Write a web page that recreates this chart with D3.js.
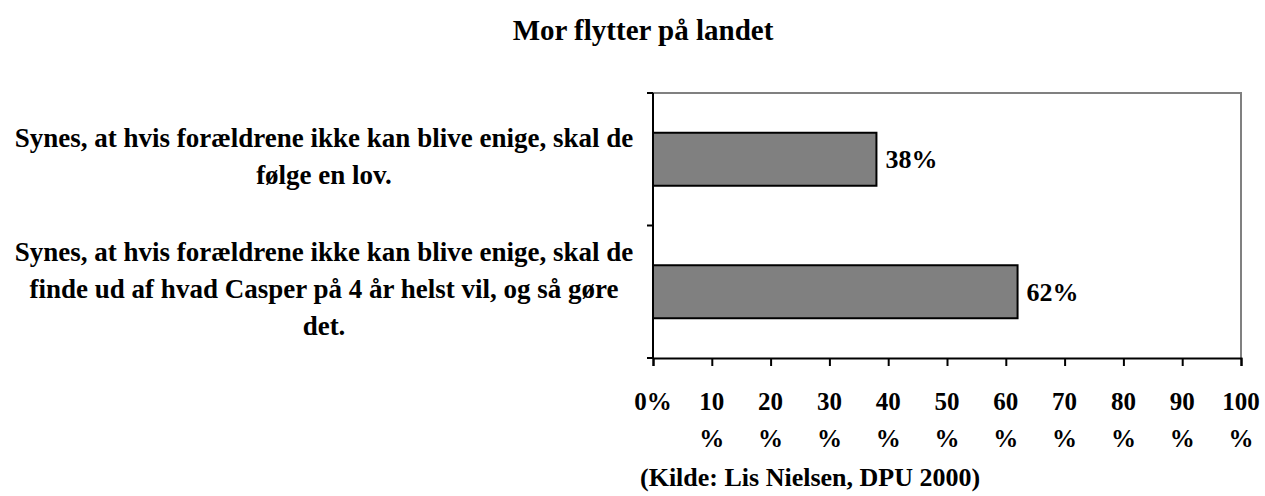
<!DOCTYPE html>
<html>
<head>
<meta charset="utf-8">
<script src="https://cdn.jsdelivr.net/npm/d3@7"></script>
<style>
body { margin: 0; background: #fff; }
text { font-family: "Liberation Serif", "Times New Roman", serif; font-weight: bold; fill: #000; }
</style>
</head>
<body>
<div id="chart"></div>
<script>
// data
var categories = [
    ["Synes, at hvis forældrene ikke kan blive enige, skal de", "følge en lov."],
    ["Synes, at hvis forældrene ikke kan blive enige, skal de", "finde ud af hvad Casper på 4 år helst vil, og så gøre", "det."]
];
var values = [0.38, 0.62];
var tickValues = [0, 0.1, 0.2, 0.3, 0.4, 0.5, 0.6, 0.7, 0.8, 0.9, 1];
var tickLabels = [["0%"], ["10", "%"], ["20", "%"], ["30", "%"], ["40", "%"], ["50", "%"], ["60", "%"], ["70", "%"], ["80", "%"], ["90", "%"], ["100", "%"]];

var W = 1265, H = 496;
var margin = {t: 93, r: 24, b: 138, l: 653};
var width = W - margin.l - margin.r,
    height = H - margin.t - margin.b;

var svg = d3.select('#chart').append('svg').attr('width', W).attr('height', H);

svg.append('text').attr('x', 643).attr('y', 40).attr('text-anchor', 'middle')
    .style('font-size', '29px').text('Mor flytter på landet');

var x = d3.scaleLinear().domain([0, 1]).range([0, width]);
var y = d3.scaleBand().domain(d3.range(categories.length)).range([0, height]).paddingInner(0.6).paddingOuter(0.3);
var yBand = d3.scaleBand().domain(d3.range(categories.length)).range([0, height]);

var g = svg.append('g').attr('transform', 'translate(' + margin.l + ',' + margin.t + ')');

// gray frame top/right
g.append('path').attr('d', 'M0,0H' + width + 'V' + height)
    .attr('fill', 'none').attr('stroke', '#808080').attr('stroke-width', 2);

// bars
g.selectAll('.bar').data(values).enter().append('rect')
    .attr('x', 0)
    .attr('y', function(d, i) { return y(i); })
    .attr('width', function(d) { return x(d); })
    .attr('height', y.bandwidth())
    .attr('fill', '#808080').attr('stroke', '#000').attr('stroke-width', 2);

g.selectAll('.val').data(values).enter().append('text')
    .attr('x', function(d) { return x(d) + 9; })
    .attr('y', function(d, i) { return y(i) + y.bandwidth() / 2; })
    .attr('dy', '0.35em').style('font-size', '26px')
    .text(function(d) { return Math.round(d * 100) + '%'; });

// y axis: ticks at band edges
var yAxis = g.append('g');
yAxis.append('line').attr('x1', 0).attr('x2', 0).attr('y1', 0).attr('y2', height).attr('stroke', '#000').attr('stroke-width', 2);
yAxis.selectAll('.yt').data([0, 1, 2]).enter().append('line')
    .attr('x1', -6).attr('x2', 0)
    .attr('y1', function(d) { return d * yBand.step(); })
    .attr('y2', function(d) { return d * yBand.step(); })
    .attr('stroke', '#000').attr('stroke-width', 2);

// category labels
var lineH = 37;
categories.forEach(function(lines, i) {
    var cy = margin.t + yBand(i) + yBand.bandwidth() / 2 - 3;
    var t = svg.append('text').attr('text-anchor', 'middle').style('font-size', '27px');
    lines.forEach(function(s, k) {
        t.append('tspan').attr('x', 324)
            .attr('y', cy + (k - (lines.length - 1) / 2) * lineH)
            .attr('dy', '0.35em').text(s);
    });
});

// x axis
var xAxis = d3.axisBottom(x).tickValues(tickValues).tickSize(8).tickFormat('');
var xg = g.append('g').attr('transform', 'translate(0,' + height + ')').call(xAxis);
xg.select('.domain').attr('stroke-width', 2);
xg.selectAll('.tick line').attr('stroke-width', 2);

xg.selectAll('.lbl').data(tickValues).enter().append('text')
    .attr('text-anchor', 'middle').style('font-size', '25px')
    .each(function(d, i) {
        var t = d3.select(this);
        tickLabels[i].forEach(function(s, k) {
            t.append('tspan').attr('x', x(d)).attr('y', 52 + k * 37).text(s);
        });
    });

svg.append('text').attr('x', 640).attr('y', 486).style('font-size', '26px')
    .text('(Kilde: Lis Nielsen, DPU 2000)');
</script>
</body>
</html>
